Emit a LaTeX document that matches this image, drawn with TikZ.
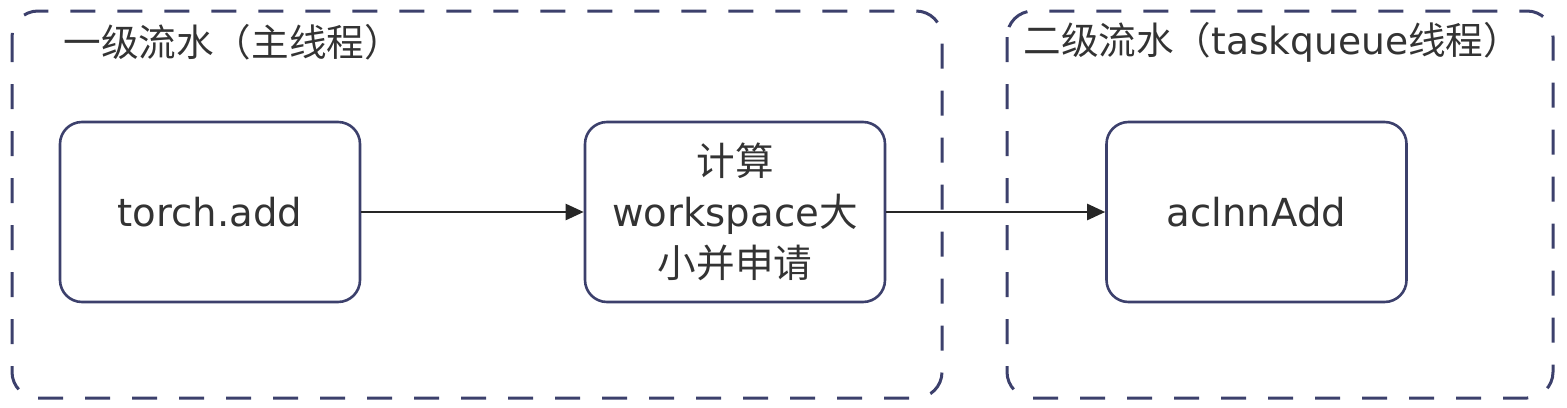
\documentclass[tikz,border=0pt]{standalone}
\usepackage{fontspec}
\usepackage{tikz}
\usetikzlibrary{arrows.meta}
\setmainfont{DejaVu Sans}
\newfontfamily\cjk{Noto Sans CJK SC}
\definecolor{edgeblue}{RGB}{60,64,108}
\definecolor{txtgray}{RGB}{51,51,51}
\tikzset{
  stagebox/.style={draw=edgeblue,line width=1.5pt,dash pattern=on 12.5pt off 11pt,rounded corners=13pt},
  taskbox/.style={draw=edgeblue,line width=1.3pt,rounded corners=11pt,minimum width=150pt,minimum height=90pt,align=center,text=txtgray,font=\fontsize{19.3}{25.5}\selectfont},
  stagetitle/.style={anchor=west,text=txtgray,inner sep=0pt,font=\fontsize{18.8}{24}\selectfont},
  flow/.style={line width=1.2pt,black!85,-{Triangle[length=9pt,width=8pt]}}
}
\begin{document}
\begin{tikzpicture}[x=0.5pt,y=-0.5pt]
                \useasboundingbox (0,0) rectangle (1567,407);
                \draw[stagebox] (12,11) rectangle (942,398);
                \draw[stagebox] (1007,11) rectangle (1553,398);
                \node[stagetitle] (maintitle) at (63,42) {{\cjk 一级流水（主线程）}};
                \node[stagetitle] (queuetitle) at (1023,42) {{\cjk 二级流水（}taskqueue{\cjk 线程）}};
                \node[taskbox] (torchadd) at (210,212) {torch.add};
                \node[taskbox] (workspace) at (735,212) {{\cjk 计算}\\workspace{\cjk 大}\\{\cjk 小并申请}};
                \node[taskbox] (aclnnadd) at (1256.5,212) {aclnnAdd};
                \draw[flow] (torchadd) -- (workspace);
                \draw[flow] (workspace) -- (aclnnadd);
            \end{tikzpicture}
\end{document}
